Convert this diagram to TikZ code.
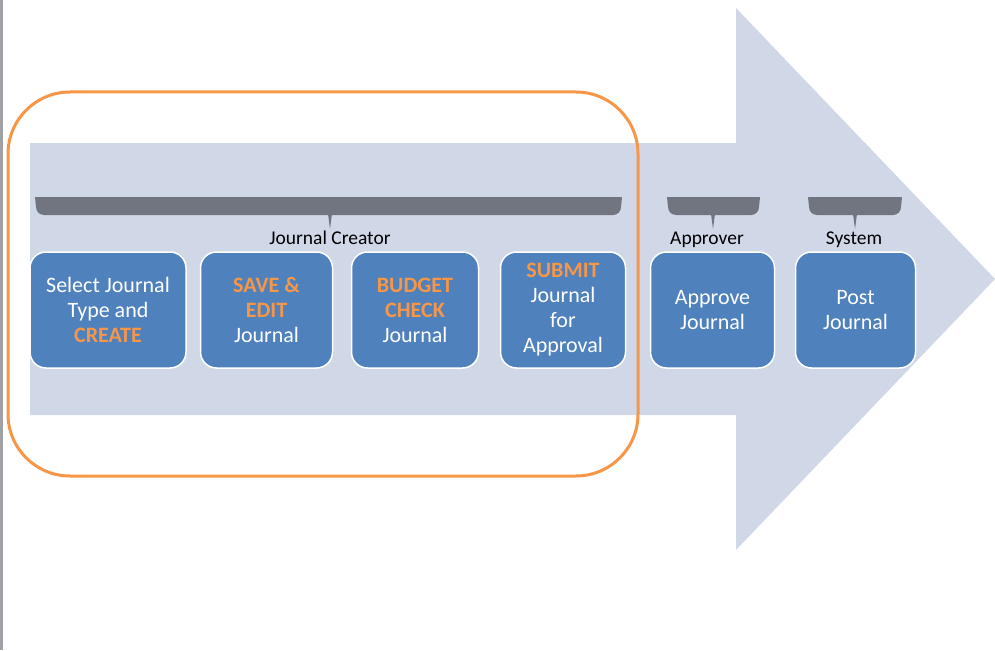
\documentclass[tikz,border=0pt]{standalone}
\usepackage{xcolor}
\usepackage{fontspec}
\setmainfont{Carlito}
\usepackage{tikz}
\usetikzlibrary{positioning}
\definecolor{flowback}{RGB}{208,216,232}
\definecolor{boxblue}{RGB}{79,129,189}
\definecolor{hiorange}{RGB}{247,150,70}
\definecolor{bargray}{RGB}{112,117,127}
\definecolor{edgegray}{RGB}{160,160,166}
\newcommand{\hot}[1]{\textbf{\textcolor{hiorange}{#1}}}

\begin{document}
\begin{tikzpicture}[
  x=1pt, y=-1pt, node distance=14pt,
  stepbox/.style={draw=white, line width=1.5pt, rounded corners=16pt, fill=boxblue,
            text=white, align=center, minimum height=116pt, inner sep=0pt,
            font=\fontsize{22}{25}\selectfont},
  role/.style={font=\fontsize{19.5}{22}\selectfont, text=black, inner sep=0pt, anchor=base}]
\useasboundingbox (0,0) rectangle (995,650);
\fill[white] (0,0) rectangle (995,650);
\draw[edgegray, line width=3pt] (1.5,0) -- (1.5,650);
% big process arrow
\fill[flowback] (30,143) -- (736,143) -- (736,8) -- (995,279) -- (736,550)
  -- (736,415) -- (30,415) -- cycle;
% creator scope
\draw[hiorange, line width=3pt, rounded corners=62pt] (8,92) rectangle (638,476);
% role brackets
\foreach \xa/\xb/\xm in {35/622/330, 667/760/713, 808/902/855}{
  \fill[bargray] (\xa,197) -- (\xb,197) -- (\xb-1,207) to[out=-90,in=0] (\xb-9,215)
    -- (\xa+9,215) to[out=180,in=-90] (\xa+1,207) -- cycle;
  \fill[bargray] (\xm-2,214) -- (\xm,229) -- (\xm+2,214) -- cycle;
}
\node[role] (creator) at (330,244) {Journal Creator};
\node[role] (approver) at (707,244) {Approver};
\node[role] (system) at (854,244) {System};
% steps
\node[stepbox, minimum width=156pt] (select) at (108,310) {Select Journal\\Type and\\\hot{CREATE}};
\node[stepbox, minimum width=132pt, right=13pt of select] (save) {\hot{SAVE \&}\\\hot{EDIT}\\Journal};
\node[stepbox, minimum width=127pt, right=17.5pt of save] (budget) {\hot{BUDGET}\\\hot{CHECK}\\Journal};
\node[stepbox, minimum width=125pt, right=20.5pt of budget] (submit) {\hot{SUBMIT}\\Journal\\for\\Approval};
\node[stepbox, minimum width=124pt, right=23.5pt of submit] (approve) {Approve\\Journal};
\node[stepbox, minimum width=120pt, right=19.5pt of approve] (post) {Post\\Journal};
\end{tikzpicture}
\end{document}
